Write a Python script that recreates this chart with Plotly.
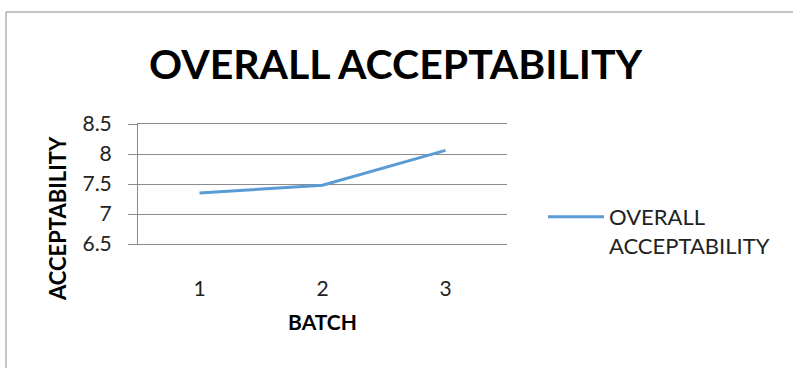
import plotly.graph_objects as go

batches = ["1", "2", "3"]
acceptability = [7.35, 7.48, 8.06]
series_name = "OVERALL<br>ACCEPTABILITY"
y_ticks = [6.5, 7, 7.5, 8, 8.5]
y_ticklabels = ["6.5", "7", "7.5", "8", "8.5"]

FONT = "Lato, Open Sans, sans-serif"
GRID = "#8C8C8C"

fig = go.Figure()
fig.add_trace(go.Scatter(
    x=batches, y=acceptability, mode="lines", name=series_name,
    line=dict(color="#5B9BD5", width=3),
))

W, H = 793, 368
L, R, T, B = 138, 286, 124, 124
pw, ph = W - L - R, H - T - B

def px(x):
    return (x - L) / pw

def py(y):
    return (H - B - y) / ph

fig.update_layout(
    width=W, height=H,
    margin=dict(l=L, r=R, t=T, b=B),
    paper_bgcolor="white", plot_bgcolor="white",
    font=dict(family=FONT, color="#222222", size=21),
    showlegend=True,
    legend=dict(
        x=px(543), y=py(196), xanchor="left", yanchor="top",
        font=dict(size=22, family=FONT, color="#222222"),
        valign="top", itemwidth=56, bgcolor="rgba(0,0,0,0)",
    ),
    xaxis=dict(
        type="category", range=[-0.5, 2.5],
        showgrid=False, showline=True, mirror=True, linecolor=GRID, linewidth=1,
        zeroline=False, ticks="", ticklabelstandoff=26,
        tickfont=dict(size=21, family=FONT),
        title=dict(text="<b>BATCH</b>", font=dict(size=21, family=FONT, color="#000000"), standoff=16),
    ),
    yaxis=dict(
        range=[6.5, 8.5], tickvals=y_ticks, ticktext=y_ticklabels,
        showgrid=True, gridcolor=GRID, gridwidth=1,
        showline=True, linecolor=GRID, linewidth=1,
        ticks="outside", ticklen=9, tickcolor=GRID,
        ticklabelstandoff=12, zeroline=False,
        tickfont=dict(size=21, family=FONT),
    ),
)

fig.add_annotation(
    text="<b>OVERALL ACCEPTABILITY</b>", xref="paper", yref="paper",
    x=px(396), y=py(63), xanchor="center", yanchor="middle",
    showarrow=False, font=dict(size=41, family=FONT, color="#000000"),
)
fig.add_annotation(
    text="<b>ACCEPTABILITY</b>", xref="paper", yref="paper",
    x=px(57), y=py(219), xanchor="center", yanchor="middle", textangle=-90,
    showarrow=False, font=dict(size=22, family=FONT, color="#000000"),
)

fig.add_shape(
    type="rect", xref="paper", yref="paper",
    x0=px(6), x1=px(820), y0=py(400), y1=py(12),
    line=dict(color=GRID, width=1), fillcolor="rgba(0,0,0,0)", layer="below",
)

fig.write_html("out.html")
